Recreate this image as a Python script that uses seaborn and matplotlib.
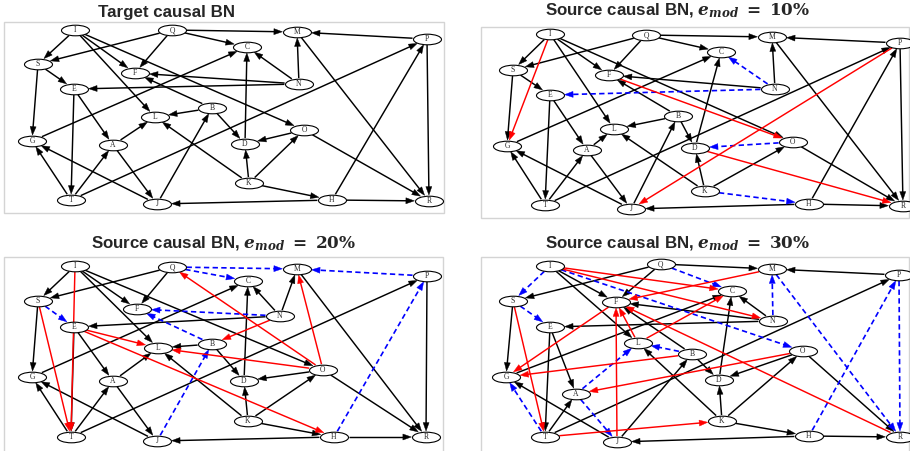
import numpy as np
import pandas as pd
import matplotlib
matplotlib.use("Agg")
import matplotlib.pyplot as plt
from matplotlib.path import Path
from matplotlib.patches import Polygon, Rectangle
import seaborn as sns

# ---------------- graph data ----------------
NODES = ["I", "Q", "M", "C", "P", "S", "F", "N", "E", "B",
         "L", "G", "A", "O", "D", "K", "T", "J", "H", "R"]

TARGET_EDGES = [
    ("I", "S"), ("I", "F"), ("I", "L"), ("I", "O"), ("Q", "S"), ("Q", "F"),
    ("Q", "M"), ("Q", "C"), ("G", "C"), ("N", "M"), ("N", "C"), ("N", "F"),
    ("N", "E"), ("P", "M"), ("P", "R"), ("M", "R"), ("H", "P"), ("T", "P"),
    ("S", "E"), ("S", "G"), ("E", "T"), ("E", "A"), ("A", "L"), ("A", "J"),
    ("T", "G"), ("T", "A"), ("J", "G"), ("J", "B"), ("B", "L"), ("B", "F"),
    ("B", "D"), ("K", "L"), ("K", "D"), ("K", "O"), ("K", "H"), ("O", "D"),
    ("O", "R"), ("D", "C"), ("H", "J"), ("H", "R"),
]

# edges kept from the target but with modified mechanisms (dashed blue)
MODIFIED_10 = [("N", "C"), ("N", "E"), ("O", "D"), ("K", "H")]
MODIFIED_20 = [("Q", "M"), ("Q", "C"), ("N", "F"), ("P", "M"), ("H", "P"),
               ("S", "E"), ("J", "B"), ("B", "F")]
MODIFIED_30 = [("I", "S"), ("I", "O"), ("Q", "C"), ("N", "M"), ("P", "R"),
               ("M", "R"), ("H", "P"), ("S", "E"), ("A", "L"), ("A", "J"),
               ("T", "G"), ("B", "L")]

# spurious edges added in each source network (red)
ADDED_10 = [("I", "G"), ("F", "O"), ("P", "J"), ("D", "R")]
ADDED_20 = [("I", "T"), ("S", "T"), ("E", "L"), ("E", "H"), ("N", "B"),
            ("O", "Q"), ("O", "M"), ("O", "L")]
ADDED_30 = [("I", "C"), ("I", "N"), ("M", "F"), ("F", "G"), ("L", "F"),
            ("L", "C"), ("J", "F"), ("R", "F"), ("B", "G"), ("O", "A"),
            ("S", "T"), ("T", "K")]

EMOD = [None, "10", "20", "30"]

# ---------------- layouts (figure pixel coordinates) ----------------
LAYOUT_TARGET = {
    "I": (75, 30), "Q": (172, 30), "M": (297, 32), "C": (247, 47), "P": (427, 39),
    "S": (38, 64), "F": (135, 73), "N": (299, 84), "E": (74, 89), "B": (212, 108),
    "L": (155, 117), "G": (32, 141), "A": (113, 145), "O": (304, 130), "D": (245, 144),
    "K": (249, 183), "T": (71, 200), "J": (157, 204), "H": (332, 200), "R": (429, 201),
}
LAYOUT_10 = {
    "I": (550, 34), "Q": (646, 35), "M": (772, 37), "C": (721, 52), "P": (900, 43),
    "S": (513, 70), "F": (609, 75), "N": (775, 89), "E": (550, 95), "B": (678, 116),
    "L": (614, 129), "G": (507, 146), "A": (587, 150), "O": (793, 142), "D": (695, 148),
    "K": (705, 191), "T": (545, 205), "J": (631, 209), "H": (809, 204), "R": (903, 206),
}
LAYOUT_20 = {
    "I": (75, 266), "Q": (172, 267), "M": (297, 269), "C": (248, 281), "P": (427, 276),
    "S": (38, 301), "F": (137, 309), "N": (280, 316), "E": (74, 327), "B": (212, 344),
    "L": (158, 348), "G": (32, 377), "A": (113, 381), "O": (323, 370), "D": (244, 381),
    "K": (248, 421), "T": (71, 437), "J": (157, 441), "H": (334, 437), "R": (426, 437),
}
LAYOUT_30 = {
    "I": (550, 266), "Q": (661, 264), "M": (772, 269), "C": (732, 291), "P": (899, 275),
    "S": (513, 301), "F": (616, 302), "N": (773, 321), "E": (550, 327), "B": (692, 354),
    "L": (638, 343), "G": (506, 377), "A": (576, 394), "O": (803, 351), "D": (719, 380),
    "K": (722, 421), "T": (545, 437), "J": (617, 442), "H": (809, 436), "R": (900, 437),
}

FRAMES = [(4, 22, 444, 213), (481, 27, 909, 218), (4, 257, 443, 452), (481, 257, 909, 452)]
TITLE_POS = [(167, 12), (678, 11), (224, 244), (678, 244)]

# ---------------- style ----------------
BLACK, RED, BLUE = "#000000", "#ff0000", "#0000ff"
NODE_A, NODE_B = 14.0, 5.3          # ellipse semi-axes (px)
HEAD_LEN, HEAD_HW = 8.5, 3.0        # arrow head (px)

sns.set_theme(style="white")
plt.rcParams["mathtext.fontset"] = "dejavuserif"

fig = plt.figure(figsize=(9.10, 4.51), dpi=100)
ax = fig.add_axes([0, 0, 1, 1])


def boundary(p, q, a=NODE_A + 0.6, b=NODE_B + 0.6):
    """Point where the segment p->q leaves the ellipse centred on p."""
    d = np.asarray(q, float) - np.asarray(p, float)
    u = d / np.hypot(*d)
    t = 1.0 / np.sqrt((u[0] / a) ** 2 + (u[1] / b) ** 2)
    return np.asarray(p, float) + u * t


def draw_edge(p, q, color, dashed=False, lw=1.0):
    s = boundary(p, q)
    e = boundary(q, p)
    u = (e - s) / np.hypot(*(e - s))
    base = e - u * HEAD_LEN
    ls = (0, (3.2, 2.0)) if dashed else "-"
    ax.plot([s[0], base[0] + u[0]], [s[1], base[1] + u[1]], color=color, lw=lw,
            linestyle=ls, solid_capstyle="butt", dash_capstyle="butt", zorder=2)
    n = np.array([-u[1], u[0]])
    tri = np.array([e, base + n * HEAD_HW, base - n * HEAD_HW])
    ax.add_patch(Polygon(tri, closed=True, facecolor=color, edgecolor=color,
                         lw=0.3, zorder=2))


layouts = [LAYOUT_TARGET, LAYOUT_10, LAYOUT_20, LAYOUT_30]
modified = [[], MODIFIED_10, MODIFIED_20, MODIFIED_30]
added = [[], ADDED_10, ADDED_20, ADDED_30]

for k, lay in enumerate(layouts):
    x0, y0, x1, y1 = FRAMES[k]
    ax.add_patch(Rectangle((x0, y0), x1 - x0, y1 - y0, fill=False,
                           edgecolor="#d4d4d4", lw=1.0, zorder=0))
    mod = set(modified[k])
    for (a, b) in TARGET_EDGES:
        if (a, b) not in mod:
            draw_edge(lay[a], lay[b], BLACK, lw=1.05)
    for (a, b) in modified[k]:
        draw_edge(lay[a], lay[b], BLUE, dashed=True, lw=1.2)
    for (a, b) in added[k]:
        draw_edge(lay[a], lay[b], RED, lw=1.05)

    tx, ty = TITLE_POS[k]
    if EMOD[k] is None:
        title = "Target causal BN"
    else:
        title = ("Source causal BN, "
                 + r"$\mathbfit{e}_{\mathbfit{mod}}\mathbf{\ =\ " + EMOD[k] + r"\%}$")
    ax.text(tx, ty, title, ha="center", va="center", fontsize=12.2,
            fontweight="bold", family="Liberation Sans", zorder=5)

# nodes: ellipse markers drawn through seaborn
nodes_df = pd.DataFrame(
    [(k, n, lay[n][0], lay[n][1]) for k, lay in enumerate(layouts) for n in NODES],
    columns=["panel", "node", "x", "y"],
)
circle = Path.unit_circle()
ellipse_marker = Path(circle.vertices * np.array([1.0, NODE_B / NODE_A]), circle.codes)
width_pt = 2 * NODE_A * 72 / fig.dpi
sns.scatterplot(data=nodes_df, x="x", y="y", marker=ellipse_marker, s=width_pt ** 2,
                facecolor="white", edgecolor="black", linewidth=0.8, zorder=3,
                legend=False, ax=ax)
for _, row in nodes_df.iterrows():
    ax.text(row.x, row.y + 0.3, row.node, ha="center", va="center", fontsize=5.5,
            family="Liberation Serif", zorder=4)

ax.set_xlim(0, 910)
ax.set_ylim(451, 0)
ax.axis("off")

fig.savefig("out.png", dpi=100, facecolor="white")
